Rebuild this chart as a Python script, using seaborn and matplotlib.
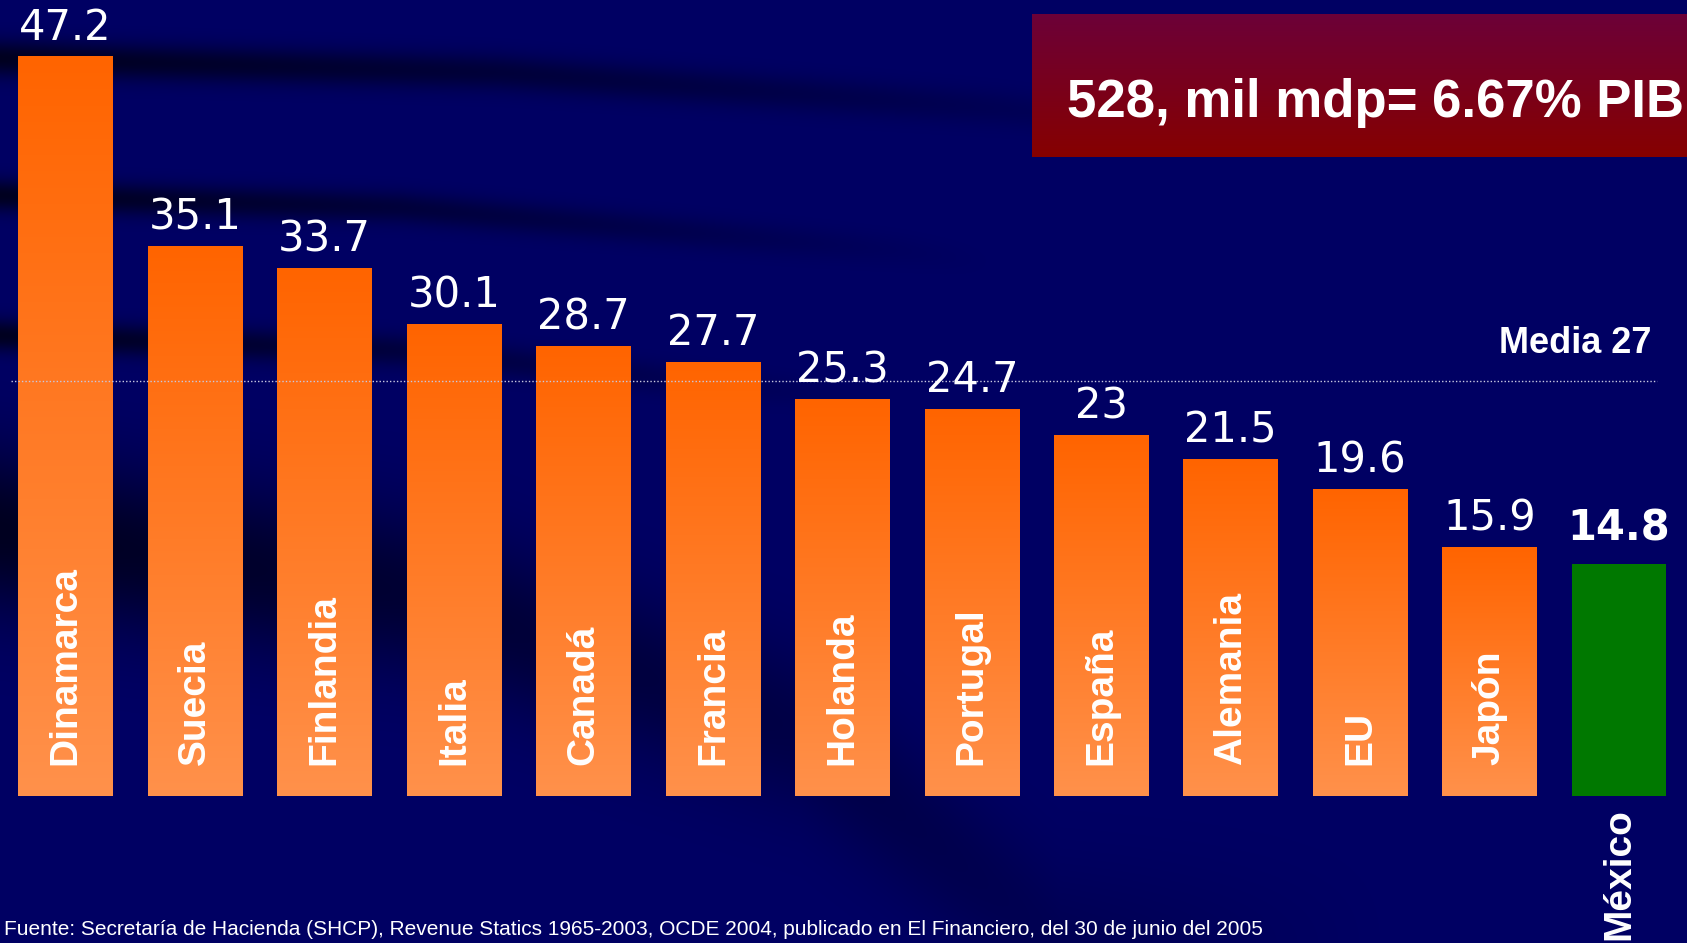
import matplotlib
matplotlib.use("Agg")

import numpy as np
import pandas as pd
import matplotlib.pyplot as plt
import seaborn as sb

# data
countries = ["Dinamarca", "Suecia", "Finlandia", "Italia", "Canadá", "Francia",
             "Holanda", "Portugal", "España", "Alemania", "EU", "Japón", "México"]
values = [47.2, 35.1, 33.7, 30.1, 28.7, 27.7, 25.3, 24.7, 23, 21.5, 19.6, 15.9, 14.8]
value_labels = ["47.2", "35.1", "33.7", "30.1", "28.7", "27.7", "25.3", "24.7",
                "23", "21.5", "19.6", "15.9", "14.8"]
media_value = 26.5
media_label = "Media 27"
box_text = "528, mil mdp= 6.67% PIB"
source_text = ("Fuente: Secretaría de Hacienda (SHCP), Revenue Statics 1965-2003, "
               "OCDE 2004, publicado en El Financiero, del 30 de junio del 2005")
highlight = "México"

W, H = 1687, 943
NAVY = (0 / 255, 0 / 255, 100 / 255)
ORANGE_TOP = np.array([255, 100, 0]) / 255
ORANGE_BOT = np.array([255, 145, 75]) / 255
GREEN = "#007800"

sb.set_theme(style="white")
plt.rcParams["font.family"] = ["Liberation Sans", "DejaVu Sans"]

fig = plt.figure(figsize=(W / 100, H / 100), dpi=100)
fig.patch.set_facecolor(NAVY)
ax = fig.add_axes([0, 0, 1, 1])
ax.set_axis_off()

xlim = (-0.507, 12.525)
ylim = (-9.375, 50.77)


def background():
    # navy slide background with darker swooshes
    yy, xx = np.mgrid[0:H, 0:W].astype(float)
    dark = np.zeros((H, W))
    bands = [
        ([0, 500, 1000, 1500], [58, 72, 108, 160], 18, 1300),
        ([0, 400, 900, 1300], [195, 207, 250, 300], 16, 1000),
        ([0, 400, 800, 1100], [335, 350, 392, 440], 16, 900),
        ([0, 400, 800, 1060], [530, 590, 730, 943], 80, 1400),
    ]
    for bx, by, hw, fade in bands:
        cy = np.interp(xx, bx, by)
        amt = np.exp(-((yy - cy) / hw) ** 2) * np.clip(1 - xx / fade, 0, 1)
        dark = np.maximum(dark, amt)
    img = np.zeros((H, W, 3))
    base = np.array(NAVY)
    black = np.array([0, 0, 20]) / 255
    img[:] = base
    img = img * (1 - dark[..., None] * 0.85) + black * (dark[..., None] * 0.85)
    ax.imshow(img, extent=[xlim[0], xlim[1], ylim[0], ylim[1]], origin="upper",
              aspect="auto", zorder=0)


background()

df = pd.DataFrame({"pais": countries, "valor": values})
palette = {c: (GREEN if c == highlight else tuple(ORANGE_TOP)) for c in countries}
sb.barplot(data=df, x="pais", y="valor", hue="pais", palette=palette,
           width=0.73, legend=False, saturation=1, ax=ax, zorder=2)

# vertical gradient on the orange bars
grad = np.linspace(0, 1, 256)[:, None, None]
grad_img = ORANGE_BOT * (1 - grad) + ORANGE_TOP * grad
for patch, name in zip(ax.patches, countries):
    patch.set_linewidth(0)
    if name == highlight:
        continue
    x0, y0 = patch.get_x(), patch.get_y()
    w, h = patch.get_width(), patch.get_height()
    im = ax.imshow(grad_img, extent=[x0, x0 + w, y0, y0 + h], origin="lower",
                   aspect="auto", zorder=3)
    im.set_clip_path(patch)

# value labels and country names
for i, (name, val, lab) in enumerate(zip(countries, values, value_labels)):
    if name == highlight:
        ax.text(i, val + 1.5, lab, ha="center", va="baseline", color="white",
                fontsize=30, fontweight="bold", family="DejaVu Sans", zorder=5)
        ax.text(i, -0.8, name, ha="center", va="top", rotation=90, color="white",
                fontsize=28, fontweight="bold", zorder=5)
    else:
        ax.text(i, val + 1.05, lab, ha="center", va="baseline", color="white",
                fontsize=30, family="DejaVu Sans", zorder=5)
        ax.text(i, 2.0, name, ha="center", va="bottom", rotation=90, color="white",
                fontsize=28, fontweight="bold", zorder=5)

# average line
ax.hlines(media_value, -0.42, 12.29, colors="#c8c8e0", linewidth=1,
          linestyles=(0, (1, 1.5)), zorder=4)
ax.text(12.25, media_value + 1.75, media_label, ha="right", va="baseline",
        color="white", fontsize=26, fontweight="bold", zorder=5)

ax.set_xlim(xlim)
ax.set_ylim(ylim)

# red box top right
box = fig.add_axes([1032 / W, 1 - 157 / H, (W - 1032) / W, (157 - 14) / H])
box.set_axis_off()
box_top = np.array([108, 0, 56]) / 255
box_bot = np.array([134, 0, 0]) / 255
bg = np.linspace(0, 1, 256)[:, None, None]
box.imshow(box_top * (1 - bg) + box_bot * bg, extent=[0, 1, 0, 1],
           origin="upper", aspect="auto")
box.text(0.053, 0.28, box_text, ha="left", va="baseline", color="white",
         fontsize=38, fontweight="bold", transform=box.transAxes)
box.set_xlim(0, 1)
box.set_ylim(0, 1)

# source note along the bottom edge
fig.text(4 / W, 4 / H, source_text, ha="left", va="bottom",
         color="white", fontsize=15)

plt.savefig("out.png", dpi=100, facecolor=fig.get_facecolor())
